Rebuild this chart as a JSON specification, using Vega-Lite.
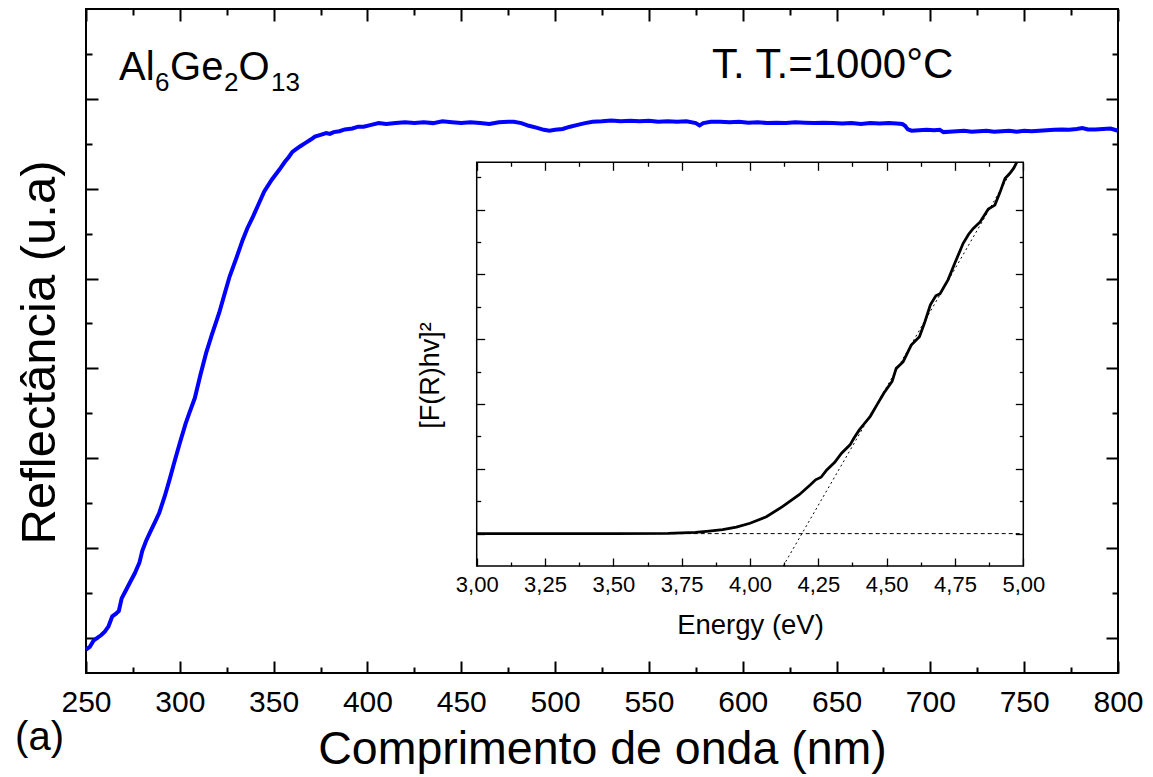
{
  "$schema": "https://vega.github.io/schema/vega-lite/v6.json",
  "width": 1032,
  "height": 664,
  "autosize": {"type": "none"},
  "padding": {"left": 86, "top": 9, "right": 35, "bottom": 104},
  "background": "white",
  "config": {
    "view": {"stroke": "black", "strokeWidth": 2},
    "axis": {"grid": false, "domain": false, "tickColor": "black", "labelColor": "black", "titleColor": "black", "labelFont": "Liberation Sans", "titleFont": "Liberation Sans", "titleFontWeight": "normal", "labelOverlap": false, "labelFlush": false},
    "text": {"font": "Liberation Sans"}
  },
  "datasets": {
    "refl": [
      {"nm": 250, "r": 0.87}, {"nm": 252, "r": 0.9}, {"nm": 254, "r": 0.97}, {"nm": 256, "r": 1.0}, {"nm": 258, "r": 1.03},
      {"nm": 260, "r": 1.07}, {"nm": 262, "r": 1.13}, {"nm": 264, "r": 1.24}, {"nm": 266, "r": 1.27}, {"nm": 267.5, "r": 1.3},
      {"nm": 269, "r": 1.44}, {"nm": 271, "r": 1.52}, {"nm": 273, "r": 1.6}, {"nm": 276, "r": 1.72}, {"nm": 278.5, "r": 1.84},
      {"nm": 280, "r": 1.97}, {"nm": 282, "r": 2.08}, {"nm": 284, "r": 2.17}, {"nm": 287, "r": 2.3}, {"nm": 289, "r": 2.39},
      {"nm": 292, "r": 2.58}, {"nm": 294.5, "r": 2.76}, {"nm": 297, "r": 2.95}, {"nm": 300, "r": 3.17}, {"nm": 303, "r": 3.38},
      {"nm": 305, "r": 3.5}, {"nm": 308, "r": 3.67}, {"nm": 311, "r": 3.93}, {"nm": 314, "r": 4.17}, {"nm": 317, "r": 4.37},
      {"nm": 321, "r": 4.62}, {"nm": 324, "r": 4.84}, {"nm": 326.5, "r": 5.02}, {"nm": 330, "r": 5.22}, {"nm": 333.5, "r": 5.43},
      {"nm": 336, "r": 5.56}, {"nm": 339, "r": 5.69}, {"nm": 342, "r": 5.83}, {"nm": 345, "r": 5.97}, {"nm": 349, "r": 6.1},
      {"nm": 353, "r": 6.21}, {"nm": 356, "r": 6.3}, {"nm": 358, "r": 6.35}, {"nm": 360, "r": 6.41}, {"nm": 362, "r": 6.44},
      {"nm": 364, "r": 6.47}, {"nm": 367, "r": 6.51}, {"nm": 370, "r": 6.55}, {"nm": 372, "r": 6.58}, {"nm": 375, "r": 6.6},
      {"nm": 378, "r": 6.62}, {"nm": 380, "r": 6.61}, {"nm": 382, "r": 6.63}, {"nm": 385, "r": 6.64}, {"nm": 388, "r": 6.66},
      {"nm": 392, "r": 6.67}, {"nm": 395, "r": 6.69}, {"nm": 398, "r": 6.69}, {"nm": 402, "r": 6.71}, {"nm": 406, "r": 6.73},
      {"nm": 410, "r": 6.72}, {"nm": 415, "r": 6.73}, {"nm": 420, "r": 6.74}, {"nm": 425, "r": 6.73}, {"nm": 430, "r": 6.74},
      {"nm": 435, "r": 6.73}, {"nm": 440, "r": 6.75}, {"nm": 445, "r": 6.74}, {"nm": 450, "r": 6.73}, {"nm": 455, "r": 6.74},
      {"nm": 460, "r": 6.73}, {"nm": 465, "r": 6.72}, {"nm": 470, "r": 6.74}, {"nm": 475, "r": 6.745}, {"nm": 478, "r": 6.745},
      {"nm": 482, "r": 6.73}, {"nm": 486, "r": 6.7}, {"nm": 490, "r": 6.68}, {"nm": 494, "r": 6.655}, {"nm": 497, "r": 6.645},
      {"nm": 500, "r": 6.655}, {"nm": 504, "r": 6.665}, {"nm": 508, "r": 6.69}, {"nm": 512, "r": 6.71}, {"nm": 516, "r": 6.73},
      {"nm": 520, "r": 6.745}, {"nm": 525, "r": 6.75}, {"nm": 530, "r": 6.76}, {"nm": 535, "r": 6.75}, {"nm": 540, "r": 6.755},
      {"nm": 545, "r": 6.75}, {"nm": 550, "r": 6.755}, {"nm": 555, "r": 6.745}, {"nm": 560, "r": 6.75}, {"nm": 565, "r": 6.745},
      {"nm": 570, "r": 6.75}, {"nm": 575, "r": 6.73}, {"nm": 577, "r": 6.705}, {"nm": 579, "r": 6.73}, {"nm": 583, "r": 6.745},
      {"nm": 588, "r": 6.745}, {"nm": 593, "r": 6.74}, {"nm": 598, "r": 6.745}, {"nm": 603, "r": 6.735}, {"nm": 608, "r": 6.74},
      {"nm": 613, "r": 6.73}, {"nm": 618, "r": 6.735}, {"nm": 623, "r": 6.73}, {"nm": 628, "r": 6.74}, {"nm": 633, "r": 6.735},
      {"nm": 638, "r": 6.73}, {"nm": 643, "r": 6.735}, {"nm": 648, "r": 6.73}, {"nm": 653, "r": 6.725}, {"nm": 658, "r": 6.73},
      {"nm": 663, "r": 6.72}, {"nm": 668, "r": 6.73}, {"nm": 673, "r": 6.725}, {"nm": 678, "r": 6.73}, {"nm": 682, "r": 6.725},
      {"nm": 685, "r": 6.72}, {"nm": 686.5, "r": 6.7}, {"nm": 688, "r": 6.66}, {"nm": 690, "r": 6.645}, {"nm": 694, "r": 6.65},
      {"nm": 698, "r": 6.655}, {"nm": 702, "r": 6.65}, {"nm": 705, "r": 6.655}, {"nm": 707, "r": 6.63}, {"nm": 710, "r": 6.635},
      {"nm": 714, "r": 6.64}, {"nm": 718, "r": 6.645}, {"nm": 722, "r": 6.635}, {"nm": 726, "r": 6.64}, {"nm": 730, "r": 6.645},
      {"nm": 734, "r": 6.635}, {"nm": 738, "r": 6.64}, {"nm": 742, "r": 6.645}, {"nm": 746, "r": 6.635}, {"nm": 750, "r": 6.645},
      {"nm": 754, "r": 6.64}, {"nm": 758, "r": 6.645}, {"nm": 762, "r": 6.65}, {"nm": 766, "r": 6.655}, {"nm": 770, "r": 6.66},
      {"nm": 774, "r": 6.655}, {"nm": 778, "r": 6.665}, {"nm": 781, "r": 6.675}, {"nm": 784, "r": 6.66}, {"nm": 788, "r": 6.66},
      {"nm": 792, "r": 6.665}, {"nm": 796, "r": 6.67}, {"nm": 800, "r": 6.645}
    ],
    "kub": [
      {"e": 3.0, "f": 0}, {"e": 3.5, "f": 0}, {"e": 3.7, "f": 0.005}, {"e": 3.8, "f": 0.02}, {"e": 3.85, "f": 0.04},
      {"e": 3.9, "f": 0.06}, {"e": 3.95, "f": 0.1}, {"e": 4.0, "f": 0.16}, {"e": 4.06, "f": 0.26}, {"e": 4.12, "f": 0.42},
      {"e": 4.18, "f": 0.6}, {"e": 4.22, "f": 0.75}, {"e": 4.24, "f": 0.83}, {"e": 4.26, "f": 0.87}, {"e": 4.28, "f": 0.98},
      {"e": 4.31, "f": 1.1}, {"e": 4.335, "f": 1.24}, {"e": 4.366, "f": 1.37}, {"e": 4.38, "f": 1.47}, {"e": 4.4, "f": 1.6},
      {"e": 4.415, "f": 1.68}, {"e": 4.44, "f": 1.81}, {"e": 4.465, "f": 1.99}, {"e": 4.49, "f": 2.17}, {"e": 4.52, "f": 2.35},
      {"e": 4.535, "f": 2.55}, {"e": 4.56, "f": 2.65}, {"e": 4.59, "f": 2.91}, {"e": 4.62, "f": 3.04}, {"e": 4.64, "f": 3.27},
      {"e": 4.66, "f": 3.53}, {"e": 4.68, "f": 3.67}, {"e": 4.695, "f": 3.7}, {"e": 4.725, "f": 3.92}, {"e": 4.75, "f": 4.18},
      {"e": 4.78, "f": 4.48}, {"e": 4.8, "f": 4.62}, {"e": 4.817, "f": 4.71}, {"e": 4.842, "f": 4.81}, {"e": 4.872, "f": 5.01},
      {"e": 4.896, "f": 5.07}, {"e": 4.915, "f": 5.27}, {"e": 4.933, "f": 5.48}, {"e": 4.951, "f": 5.56}, {"e": 4.965, "f": 5.64},
      {"e": 4.976, "f": 5.73}
    ],
    "fit": [
      {"e": 3.0, "f": 0, "seg": "base"}, {"e": 5.0, "f": 0, "seg": "base"},
      {"e": 4.1215, "f": -0.5, "seg": "tangent"}, {"e": 4.975, "f": 5.73, "seg": "tangent"}
    ],
    "notes": [
      {"t": "Al", "x": 267.6, "y": 7.21},
      {"t": "Ge", "x": 294.8, "y": 7.21},
      {"t": "O", "x": 331.3, "y": 7.21},
      {"t": "(a)", "x": 212.2, "y": -0.2465}
    ],
    "notes2": [
      {"t": "T. T.=1000°C", "x": 583.6, "y": 7.229}
    ],
    "subs": [
      {"t": "6", "x": 286.8, "y": 7.091},
      {"t": "2", "x": 323.5, "y": 7.091},
      {"t": "13", "x": 348.6, "y": 7.091}
    ]
  },
  "resolve": {"scale": {"x": "independent", "y": "independent"}, "axis": {"x": "independent", "y": "independent"}},
  "layer": [
    {
      "data": {"name": "refl"},
      "mark": {"type": "line", "color": "#0000ff", "strokeWidth": 4},
      "encoding": {
        "x": {"field": "nm", "type": "quantitative", "scale": {"domain": [250, 800], "nice": false, "zero": false},
          "axis": {"orient": "bottom", "values": [250,275,300,325,350,375,400,425,450,475,500,525,550,575,600,625,650,675,700,725,750,775,800],
            "tickSize": {"condition": {"test": "datum.value % 50 === 0", "value": -12}, "value": -6}, "tickWidth": 2,
            "labelExpr": "datum.value % 50 === 0 ? datum.label : ''", "labelFontSize": 30, "labelBaseline": "alphabetic", "labelPadding": 50.7,
            "title": "Comprimento de onda (nm)", "titleFontSize": 46.5, "titleBaseline": "alphabetic", "titleY": 90}},
        "y": {"field": "r", "type": "quantitative", "scale": {"domain": [0.61, 8], "nice": false, "zero": false},
          "axis": {"orient": "left", "values": [1,1.5,2,2.5,3,3.5,4,4.5,5,5.5,6,6.5,7,7.5],
            "tickSize": {"condition": {"test": "datum.value % 1 === 0", "value": -12}, "value": -6}, "tickWidth": 2,
            "labels": false, "title": "Reflectância (u.a)", "titleFontSize": 49, "titleBaseline": "alphabetic", "titleX": -32, "titleY": 343}}
      }
    },
    {
      "data": {"name": "notes"},
      "mark": {"type": "text", "align": "left", "baseline": "alphabetic", "fontSize": 40, "color": "black"},
      "encoding": {
        "text": {"field": "t"},
        "x": {"field": "x", "type": "quantitative", "scale": {"domain": [250, 800], "nice": false, "zero": false},
          "axis": {"orient": "top", "values": [250,275,300,325,350,375,400,425,450,475,500,525,550,575,600,625,650,675,700,725,750,775,800],
            "tickSize": {"condition": {"test": "datum.value % 50 === 0", "value": -12}, "value": -6}, "tickWidth": 2, "labels": false, "title": null}},
        "y": {"field": "y", "type": "quantitative", "scale": {"domain": [0.61, 8], "nice": false, "zero": false},
          "axis": {"orient": "right", "values": [1,1.5,2,2.5,3,3.5,4,4.5,5,5.5,6,6.5,7,7.5],
            "tickSize": {"condition": {"test": "datum.value % 1 === 0", "value": -12}, "value": -6}, "tickWidth": 2, "labels": false, "title": null}}
      }
    },
    {
      "data": {"name": "notes2"},
      "mark": {"type": "text", "align": "left", "baseline": "alphabetic", "fontSize": 42, "color": "black"},
      "encoding": {
        "text": {"field": "t"},
        "x": {"field": "x", "type": "quantitative", "scale": {"domain": [250, 800], "nice": false, "zero": false}, "axis": null},
        "y": {"field": "y", "type": "quantitative", "scale": {"domain": [0.61, 8], "nice": false, "zero": false}, "axis": null}
      }
    },
    {
      "data": {"name": "subs"},
      "mark": {"type": "text", "align": "left", "baseline": "alphabetic", "fontSize": 26, "color": "black"},
      "encoding": {
        "text": {"field": "t"},
        "x": {"field": "x", "type": "quantitative", "scale": {"domain": [250, 800], "nice": false, "zero": false}, "axis": null},
        "y": {"field": "y", "type": "quantitative", "scale": {"domain": [0.61, 8], "nice": false, "zero": false}, "axis": null}
      }
    },
    {
      "data": {"values": [{}]},
      "mark": {"type": "rect", "fill": "white", "stroke": "black", "strokeWidth": 1.5},
      "encoding": {
        "x": {"datum": 3, "type": "quantitative", "scale": {"domain": [1.5704, 5.3465], "nice": false, "zero": false},
          "axis": {"orient": "bottom", "offset": -107, "zindex": 1, "values": [3,3.125,3.25,3.375,3.5,3.625,3.75,3.875,4,4.125,4.25,4.375,4.5,4.625,4.75,4.875,5],
            "tickSize": {"condition": {"test": "(datum.value * 4) % 1 === 0", "value": -8}, "value": -4}, "tickWidth": 1.3,
            "labelExpr": "(datum.value * 4) % 1 === 0 ? replace(format(datum.value, '.2f'), '.', ',') : ''",
            "labelFontSize": 22, "labelBaseline": "alphabetic", "labelPadding": 33.7,
            "title": "Energy (eV)", "titleFontSize": 27.5, "titleBaseline": "alphabetic", "titleX": 664, "titleY": 67.3}},
        "x2": {"datum": 5},
        "y": {"datum": -0.5, "type": "quantitative", "scale": {"domain": [-2.151, 8.096], "nice": false, "zero": false},
          "axis": {"orient": "left", "offset": -390.7, "zindex": 1, "values": [0,0.5,1,1.5,2,2.5,3,3.5,4,4.5,5,5.5],
            "tickSize": {"condition": {"test": "datum.value % 1 === 0", "value": -8}, "value": -4}, "tickWidth": 1.3,
            "labels": false, "title": "[F(R)hv]²", "titleFontSize": 27, "titleBaseline": "alphabetic", "titleX": -38.4, "titleY": 366}},
        "y2": {"datum": 5.73}
      }
    },
    {
      "data": {"name": "fit"},
      "mark": {"type": "line", "color": "black", "strokeWidth": 1},
      "encoding": {
        "x": {"field": "e", "type": "quantitative", "scale": {"domain": [1.5704, 5.3465], "nice": false, "zero": false}, "axis": null},
        "y": {"field": "f", "type": "quantitative", "scale": {"domain": [-2.151, 8.096], "nice": false, "zero": false}, "axis": null},
        "strokeDash": {"field": "seg", "type": "nominal", "scale": {"domain": ["base", "tangent"], "range": [[4, 3], [2, 3]]}, "legend": null}
      }
    },
    {
      "data": {"name": "kub"},
      "mark": {"type": "line", "color": "black", "strokeWidth": 2.8},
      "encoding": {
        "x": {"field": "e", "type": "quantitative", "scale": {"domain": [1.5704, 5.3465], "nice": false, "zero": false},
          "axis": {"orient": "top", "offset": -153.3, "zindex": 1, "values": [3,3.125,3.25,3.375,3.5,3.625,3.75,3.875,4,4.125,4.25,4.375,4.5,4.625,4.75,4.875,5],
            "tickSize": {"condition": {"test": "(datum.value * 4) % 1 === 0", "value": -8}, "value": -4}, "tickWidth": 1.3, "labels": false, "title": null}},
        "y": {"field": "f", "type": "quantitative", "scale": {"domain": [-2.151, 8.096], "nice": false, "zero": false},
          "axis": {"orient": "right", "offset": -94.7, "zindex": 1, "values": [0,0.5,1,1.5,2,2.5,3,3.5,4,4.5,5,5.5],
            "tickSize": {"condition": {"test": "datum.value % 1 === 0", "value": -8}, "value": -4}, "tickWidth": 1.3, "labels": false, "title": null}}
      }
    }
  ]
}
